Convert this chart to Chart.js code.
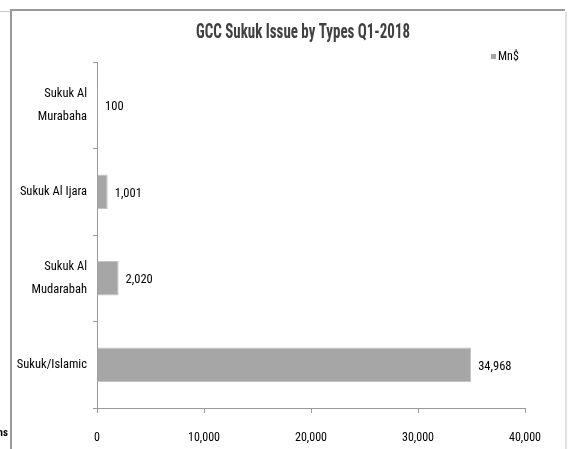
<!DOCTYPE html>
<html>
<head>
<meta charset="utf-8">
<script src="https://cdn.jsdelivr.net/npm/chart.js@4/dist/chart.umd.min.js"></script>
<style>
  html, body { margin: 0; padding: 0; background: #fff; }
  canvas { display: block; }
</style>
</head>
<body>
<canvas id="c" width="571" height="449"></canvas>
<script>
const chartTitle = "GCC Sukuk Issue by Types Q1-2018";
const seriesName = "Mn$";
const categories = [["Sukuk Al", "Murabaha"], "Sukuk Al Ijara", ["Sukuk Al", "Mudarabah"], "Sukuk/Islamic"];
const values = [100, 1001, 2020, 34968];
const xTicks = [0, 10000, 20000, 30000, 40000];
const cutText = "ns";

const FONT = "'Roboto Condensed', 'DejaVu Sans Condensed', sans-serif";
const BAR = '#a6a6a6';
const fmt = v => v.toLocaleString('en-US');

const framePlugin = {
  id: 'frame',
  beforeDraw(chart) {
    const ctx = chart.ctx;
    ctx.save();
    ctx.fillStyle = '#fff';
    ctx.fillRect(0, 0, chart.width, chart.height);
    ctx.strokeStyle = '#c8c8c8';
    ctx.lineWidth = 1;
    ctx.beginPath(); ctx.moveTo(0, 11.5); ctx.lineTo(10, 11.5); ctx.stroke();
    ctx.strokeStyle = '#9a9a9a';
    ctx.lineWidth = 2;
    ctx.beginPath(); ctx.moveTo(10, 10); ctx.lineTo(565, 10); ctx.stroke();
    ctx.beginPath(); ctx.moveTo(11, 10); ctx.lineTo(11, 449); ctx.stroke();
    ctx.strokeStyle = '#e0e0e0';
    ctx.beginPath(); ctx.moveTo(566, 12); ctx.lineTo(566, 449); ctx.stroke();
    ctx.fillStyle = '#000';
    ctx.font = "bold 11px " + FONT;
    ctx.textAlign = 'right';
    ctx.textBaseline = 'middle';
    ctx.fillText(cutText, 8, 433);
    ctx.restore();
  }
};

const titleLegendPlugin = {
  id: 'ctitle',
  afterDraw(chart) {
    const ctx = chart.ctx;
    ctx.save();
    ctx.fillStyle = '#404040';
    ctx.font = "bold 21px " + FONT;
    ctx.textAlign = 'center';
    ctx.textBaseline = 'middle';
    ctx.fillText(chartTitle, 303, 33, 214);
    // legend
    const ds = chart.data.datasets[0];
    ctx.fillStyle = ds.backgroundColor;
    ctx.fillRect(491, 54, 5, 5);
    ctx.fillStyle = '#000';
    ctx.font = "12px " + FONT;
    ctx.textAlign = 'left';
    ctx.fillText(ds.label, 498, 57);
    ctx.restore();
  }
};

const labelPlugin = {
  id: 'vlabels',
  afterDatasetsDraw(chart) {
    const ctx = chart.ctx;
    const meta = chart.getDatasetMeta(0);
    ctx.save();
    ctx.fillStyle = '#000';
    ctx.font = "12.5px " + FONT;
    ctx.textAlign = 'left';
    ctx.textBaseline = 'middle';
    meta.data.forEach((bar, i) => {
      ctx.fillText(fmt(chart.data.datasets[0].data[i]), bar.x + 7, bar.y + 2);
    });
    ctx.restore();
  }
};

new Chart(document.getElementById('c'), {
  type: 'bar',
  data: {
    labels: categories,
    datasets: [{
      label: seriesName,
      data: values,
      backgroundColor: BAR,
      borderColor: '#c4c4c4',
      borderWidth: 1,
      barPercentage: 0.4,
      categoryPercentage: 1.0
    }]
  },
  plugins: [framePlugin, labelPlugin, titleLegendPlugin],
  options: {
    indexAxis: 'y',
    responsive: false,
    animation: false,
    layout: { padding: { left: 0, right: 46, top: 62, bottom: 0 } },
    plugins: {
      title: { display: false },
      legend: { display: false },
      tooltip: { enabled: false }
    },
    scales: {
      x: {
        min: 0,
        max: 40000,
        afterBuildTicks(scale) { scale.ticks = xTicks.map(v => ({ value: v })); },
        afterFit(scale) { scale.height = 41; },
        grid: { display: true, drawOnChartArea: false, tickLength: 5, color: '#9a9a9a' },
        border: { color: '#9a9a9a', width: 1 },
        ticks: {
          color: '#000',
          font: { family: FONT, size: 12 },
          padding: 18,
          maxRotation: 0,
          callback: v => fmt(v)
        }
      },
      y: {
        afterFit(scale) { scale.width = 97; },
        grid: { display: true, drawOnChartArea: false, tickLength: 4, color: '#9a9a9a', offset: true },
        border: { color: '#9a9a9a', width: 1 },
        ticks: {
          color: '#000',
          font: { family: FONT, size: 12.5, lineHeight: 1.8 },
          padding: 6
        }
      }
    }
  }
});
</script>
</body>
</html>
